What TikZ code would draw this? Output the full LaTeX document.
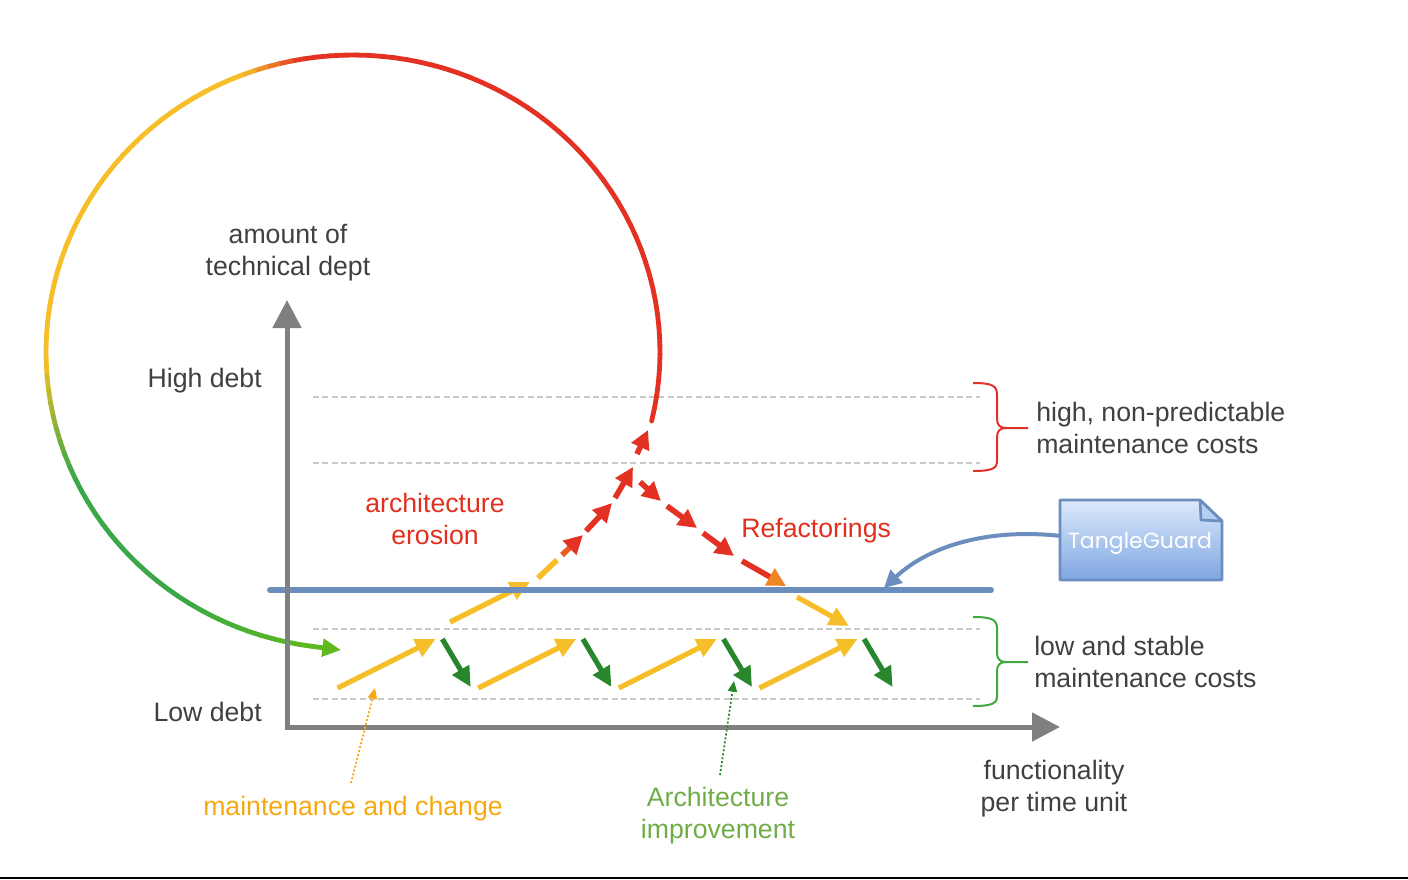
\documentclass[tikz,border=0pt]{standalone}
\usepackage{fontspec}
\setmainfont{Liberation Sans}
\newfontfamily\notefont{Poppins}
\usetikzlibrary{arrows.meta}
\definecolor{cred}{RGB}{227,50,35}
\definecolor{cyellow}{RGB}{246,190,40}
\definecolor{cgreen}{RGB}{58,168,72}
\definecolor{clight}{RGB}{95,185,30}
\definecolor{dgreen}{RGB}{40,135,45}
\definecolor{axgray}{RGB}{128,128,128}
\definecolor{guidegray}{RGB}{200,200,200}
\definecolor{txtgray}{RGB}{64,64,64}
\definecolor{redtxt}{RGB}{226,48,30}
\definecolor{orangetxt}{RGB}{247,168,16}
\definecolor{greentxt}{RGB}{112,173,71}
\definecolor{noteblue}{RGB}{108,142,191}
\definecolor{notetop}{RGB}{220,233,252}
\definecolor{notebot}{RGB}{126,166,224}
\definecolor{bracered}{RGB}{224,50,40}
\definecolor{bracegreen}{RGB}{60,170,60}
\begin{document}
\begin{tikzpicture}[x=0.75pt,y=-0.75pt,
  lbl/.style={font=\fontsize{20}{24}\selectfont, inner sep=0pt},
  guide/.style={draw=guidegray, line width=1.2pt, dash pattern=on 4.5pt off 2.5pt},
  axisline/.style={draw=axgray, line width=3.75pt, -{Triangle[length=21pt,width=21pt]}},
  yarrow/.style={draw=cyellow, line width=3.9pt, -{Triangle[length=15pt,width=14pt]}},
  garrow/.style={draw=dgreen, line width=3.9pt, -{Triangle[length=15pt,width=14pt]}},
  earrow/.style={draw=cred, line width=4.2pt, -{Triangle[length=14pt,width=14pt]}, dash pattern=on 16pt off 5pt},
  bracestyle/.style={line width=1.5pt},
  pointer/.style={line width=1.3pt, dash pattern=on 1.5pt off 1.5pt, -{Triangle[length=8pt,width=7pt]}}
]
\useasboundingbox (0,0) rectangle (1408,879);

% bottom rule
\coordinate (rl) at (0,878);
\coordinate (rr) at (1408,878);
\draw[black, line width=1.2pt] (rl) -- (rr);

% guide lines
\foreach \yy/\nm in {397/ga,463/gb,629/gc,699/gd}{
  \coordinate (\nm1) at (313,\yy);
  \coordinate (\nm2) at (980,\yy);
  \draw[guide] (\nm1) -- (\nm2);
}

% big loop with colour gradient (nearly circular)
\foreach \a in {0,...,109}{
  \pgfmathsetmacro\ta{-13+2.5*\a}
  \pgfmathsetmacro\tb{\ta+2.5}
  \pgfmathsetmacro\ra{302+5*cos(2*\ta)}
  \pgfmathsetmacro\rb{302+5*cos(2*\tb)}
  \pgfmathsetmacro\tm{\ta+1.25}
  \ifdim\tm pt<100pt \colorlet{lc}{cred}\else
   \ifdim\tm pt<112pt \pgfmathtruncatemacro\p{(\tm-100)/12*100}\colorlet{lc}{cyellow!\p!cred}\else
    \ifdim\tm pt<182pt \colorlet{lc}{cyellow}\else
     \ifdim\tm pt<204pt \pgfmathtruncatemacro\p{(\tm-182)/22*100}\colorlet{lc}{cgreen!\p!cyellow}\else
      \ifdim\tm pt<235pt \colorlet{lc}{cgreen}\else
       \pgfmathtruncatemacro\p{min(100,(\tm-235)/27*100)}\colorlet{lc}{clight!\p!cgreen}
  \fi\fi\fi\fi\fi
  \draw[lc, line width=3.6pt, line cap=round] ({353+\ra*cos(\ta)},{352-\ra*sin(\ta)}) -- ({353+\rb*cos(\tb)},{352-\rb*sin(\tb)});
}
\coordinate (loopa) at (311.6,646.3);
\coordinate (loopend) at (341,650);
\draw[clight, line width=3.6pt, -{Triangle[length=14pt,width=13pt]}] (loopa) -- (loopend);

% zigzag arrows (maintenance and architecture improvement)
\foreach \k in {0,1,2,3}{
  \coordinate (ys\k) at (337.6+140.6*\k,688);
  \coordinate (ye\k) at (435.6+140.6*\k,639);
  \coordinate (gs\k) at (442.3+140.6*\k,639);
  \coordinate (ge\k) at (470.8+140.6*\k,687);
  \draw[yarrow] (ys\k) -- (ye\k);
  \draw[garrow] (gs\k) -- (ge\k);
}

% architecture erosion
\coordinate (e0) at (450,622);
\coordinate (e1) at (530,582);
\draw[yarrow] (e0) -- (e1);
\coordinate (e2) at (538,578);
\coordinate (e3) at (557,560);
\coordinate (e4) at (562,555);
\coordinate (e5) at (583,535);
\draw[cyellow, line width=4.2pt] (e2) -- (e3);
\draw[cred!70!cyellow, line width=4.2pt, -{Triangle[length=14pt,width=14pt,color=cred]}] (e4) -- (e5);
\coordinate (e6) at (586,531);
\coordinate (e7) at (612,503);
\draw[earrow] (e6) -- (e7);
\coordinate (e8) at (615,498);
\coordinate (e9) at (633,467);
\draw[earrow] (e8) -- (e9);
\coordinate (e10) at (637,454);
\coordinate (e11) at (648,430);
\draw[earrow] (e10) -- (e11);

% refactorings
\coordinate (r0) at (640,482);
\coordinate (r1) at (661,501);
\draw[earrow] (r0) -- (r1);
\coordinate (r2) at (667,506);
\coordinate (r3) at (697,528);
\draw[earrow] (r2) -- (r3);
\coordinate (r4) at (703,533);
\coordinate (r5) at (734,556);
\draw[earrow] (r4) -- (r5);
\coordinate (r6) at (742,561);
\coordinate (r7) at (786,586);
\draw[cred, line width=4.2pt, -{Triangle[length=14pt,width=14pt,color=cred!40!cyellow]}] (r6) -- (r7);
\coordinate (r8) at (797,597);
\coordinate (r9) at (849,626);
\draw[yarrow] (r8) -- (r9);

% blue TangleGuard line
\coordinate (bl) at (270,590);
\coordinate (br) at (991,590);
\draw[noteblue, line width=4.5pt, line cap=round] (bl) -- (br);

% TangleGuard note
\shade[draw=noteblue, line width=2pt, top color=notetop, bottom color=notebot, line join=round]
  (1060,500) -- (1200,500) -- (1222,521) -- (1222,580) -- (1060,580) -- cycle;
\fill[notetop!60!notebot, draw=noteblue, line width=2pt, line join=round]
  (1200,500) -- (1201,520) -- (1222,521) -- cycle;
\node[font=\notefont\fontsize{16.5}{20}\selectfont, text=white, anchor=base, inner sep=0pt] (tg) at (1140,548) {TangleGuard};
\coordinate (tgw) at (1061,536);
\coordinate (tgt) at (884,588);
\draw[noteblue, line width=3pt, -{Triangle[length=13pt,width=13pt]}] (tgw) .. controls (990,528) and (930,545) .. (tgt);

% braces
\draw[bracered, bracestyle] (973,383) .. controls (993,383) and (997,386) .. (997,395) -- (997,419) .. controls (997,425) and (1000,428) .. (1006,428) -- (1028,428);
\draw[bracered, bracestyle] (1006,428) .. controls (1000,428) and (997,431) .. (997,437) -- (997,461) .. controls (997,468) and (993,471) .. (973,471);
\draw[bracegreen, bracestyle] (973,617) .. controls (993,617) and (997,620) .. (997,629) -- (997,653) .. controls (997,659) and (1000,662) .. (1006,662) -- (1028,662);
\draw[bracegreen, bracestyle] (1006,662) .. controls (1000,662) and (997,665) .. (997,671) -- (997,696) .. controls (997,703) and (993,706) .. (973,706);

% axes
\coordinate (O) at (287,729);
\coordinate (ytip) at (287,300);
\coordinate (O2) at (285,727);
\coordinate (xtip) at (1060,727);
\draw[axisline] (O) -- (ytip);
\draw[axisline] (O2) -- (xtip);

% pointers
\coordinate (op0) at (351,783);
\coordinate (op1) at (375,688);
\draw[pointer, orangetxt] (op0) -- (op1);
\coordinate (gp0) at (720,775);
\coordinate (gp1) at (734,681);
\draw[pointer, dgreen] (gp0) -- (gp1);

% labels
\node[lbl, text=txtgray, anchor=base] (amt1) at (288,243) {amount of};
\node[lbl, text=txtgray, anchor=base] (amt2) at (288,275) {technical dept};
\node[lbl, text=txtgray, anchor=base east] (hi) at (262,387) {High debt};
\node[lbl, text=txtgray, anchor=base east] (lo) at (262,721) {Low debt};
\node[lbl, text=redtxt, anchor=base] (ae1) at (435,512) {architecture};
\node[lbl, text=redtxt, anchor=base] (ae2) at (435,544) {erosion};
\node[lbl, text=redtxt, anchor=base west] (rf) at (741,537) {Refactorings};
\node[lbl, text=txtgray, anchor=base west] (hc1) at (1036,421) {high, non-predictable};
\node[lbl, text=txtgray, anchor=base west] (hc2) at (1036,453) {maintenance costs};
\node[lbl, text=txtgray, anchor=base west] (lc1) at (1034,655) {low and stable};
\node[lbl, text=txtgray, anchor=base west] (lc2) at (1034,687) {maintenance costs};
\node[lbl, text=orangetxt, anchor=base] (mc) at (353,815) {maintenance and change};
\node[lbl, text=greentxt, anchor=base] (ai1) at (718,806) {Architecture};
\node[lbl, text=greentxt, anchor=base] (ai2) at (718,838) {improvement};
\node[lbl, text=txtgray, anchor=base] (fu1) at (1054,779) {functionality};
\node[lbl, text=txtgray, anchor=base] (fu2) at (1054,811) {per time unit};
\end{tikzpicture}
\end{document}
